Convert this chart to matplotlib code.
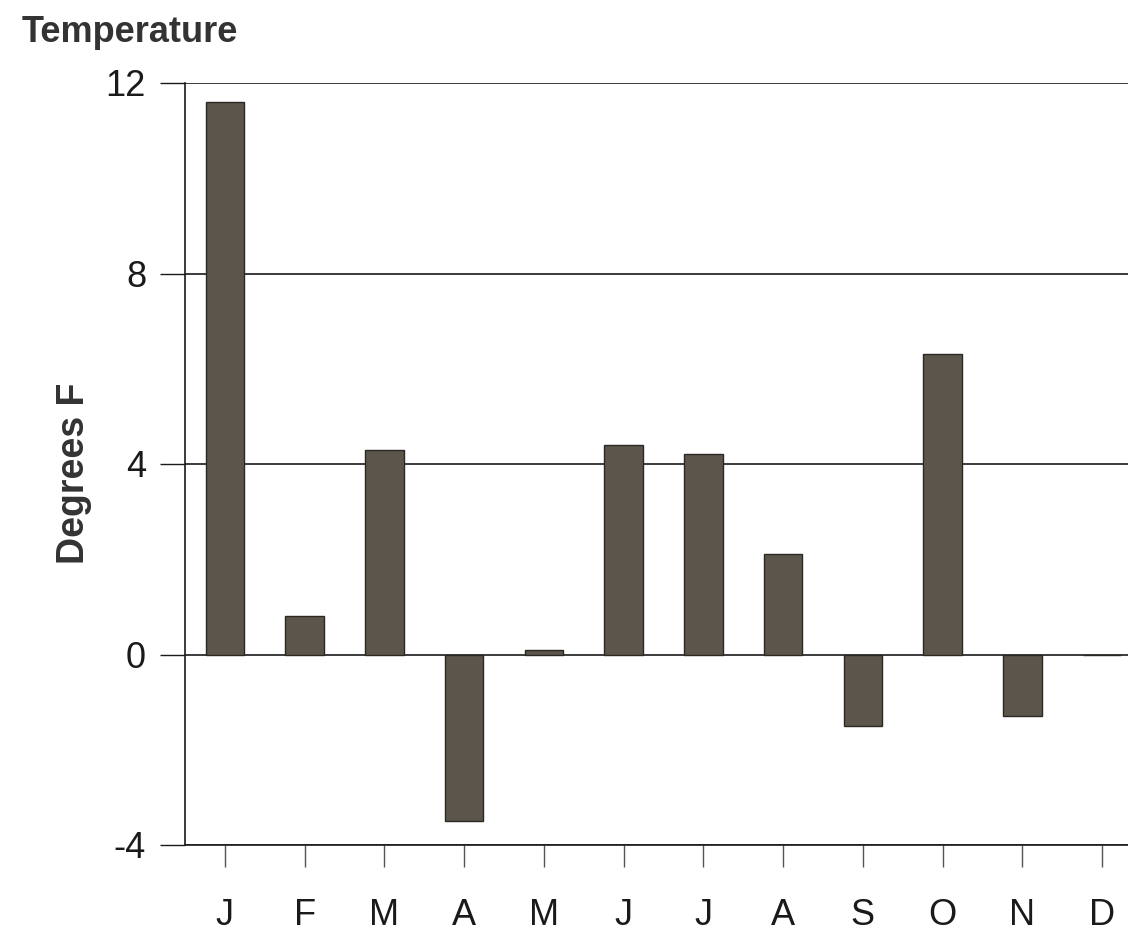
import matplotlib
matplotlib.use("Agg")
import matplotlib.pyplot as plt

months = ["J", "F", "M", "A", "M", "J", "J", "A", "S", "O", "N", "D"]
values = [11.6, 0.8, 4.3, -3.5, 0.1, 4.4, 4.2, 2.1, -1.5, 6.3, -1.3, 0.0]
yticks = [-4, 0, 4, 8, 12]

plt.rcParams['font.family'] = ['Liberation Sans', 'DejaVu Sans']

fig = plt.figure(figsize=(11.28, 9.35), dpi=100)
ax = fig.add_axes([185/1128, 1-845/935, (1142-185)/1128, (845-83)/935])

x = list(range(len(months)))
ax.bar(x, values, width=0.48, color="#5c554b", edgecolor="#2b2824", linewidth=1.0, zorder=3)

ax.set_xlim(-0.5, 11.5)
ax.set_ylim(-4, 12)
ax.set_yticks(yticks)
ax.set_yticklabels([str(v) for v in yticks])
ax.set_xticks(x)
ax.set_xticklabels(months)

ax.set_axisbelow(True)
ax.yaxis.grid(True, color="#1a1a1a", linewidth=1.2)
for s in ["top", "right"]:
    ax.spines[s].set_visible(False)
for s in ["left", "bottom"]:
    ax.spines[s].set_color("#1a1a1a")
    ax.spines[s].set_linewidth(1.2)

ax.tick_params(axis="y", direction="out", length=18, width=1.0, pad=10,
               labelsize=26, color="#1a1a1a", labelcolor="#1a1a1a")
ax.tick_params(axis="x", direction="out", length=16, width=1.0, pad=22,
               labelsize=26, color="#555555", labelcolor="#1a1a1a")

ax.set_ylabel("Degrees F", fontsize=27, fontweight="bold", color="#333333")
ax.yaxis.set_label_coords((92-185)/957, (845-473)/762)
fig.text(22/1128, 1-33/935, "Temperature", fontsize=26, fontweight="bold",
         color="#333333", ha="left", va="center")

fig.savefig("out.png", dpi=100)
